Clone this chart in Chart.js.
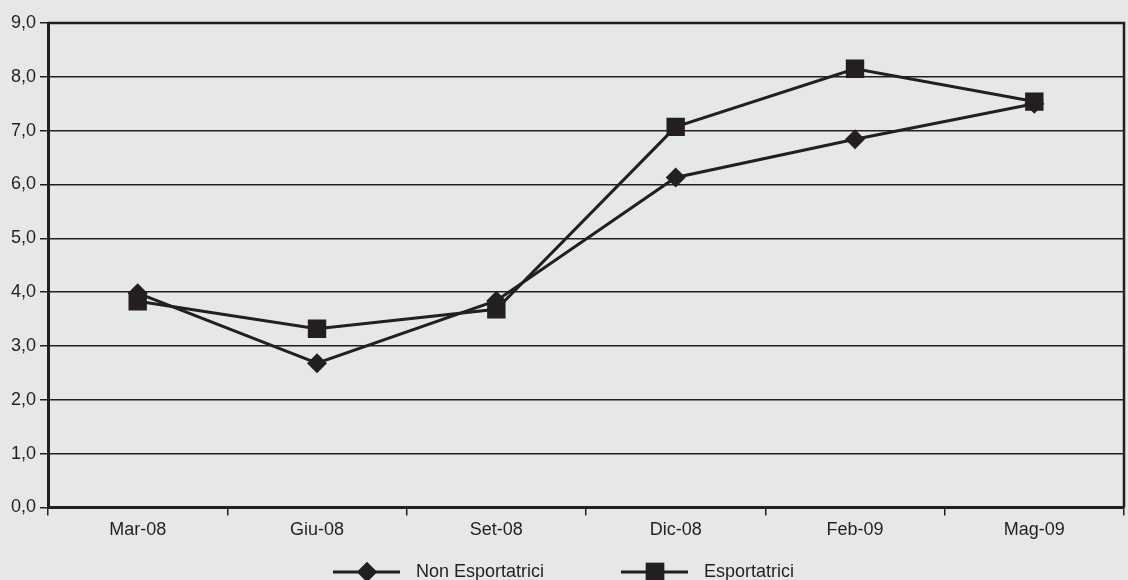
<!DOCTYPE html>
<html>
<head>
<meta charset="utf-8">
<script src="https://cdn.jsdelivr.net/npm/chart.js@4/dist/chart.umd.min.js"></script>
<style>
  html, body { margin: 0; padding: 0; background: #e6e7e8; overflow: hidden; }
  #wrap { width: 1128px; height: 580px; }
</style>
</head>
<body>
<div id="wrap"><canvas id="chart" width="1128" height="580"></canvas></div>
<script>
const categories = ['Mar-08', 'Giu-08', 'Set-08', 'Dic-08', 'Feb-09', 'Mag-09'];
const nonEsportatrici = [3.98, 2.68, 3.84, 6.13, 6.84, 7.50];
const esportatrici = [3.83, 3.32, 3.68, 7.07, 8.15, 7.54];
const yTicks = [0, 1, 2, 3, 4, 5, 6, 7, 8, 9];

const ink = '#231f20';
const fontFamily = '"Liberation Sans", Arial, sans-serif';

// big markers would otherwise push the plot edge inwards
Chart.LineController.prototype.getMaxOverflow = function () { return 0; };

// frame on the top and right side of the plot
const frame = {
    id: 'frame',
    beforeDatasetsDraw(chart) {
        const a = chart.chartArea;
        const ctx = chart.ctx;
        ctx.save();
        ctx.strokeStyle = ink;
        ctx.lineWidth = 2.5;
        ctx.beginPath();
        ctx.moveTo(a.left, a.top);
        ctx.lineTo(a.right, a.top);
        ctx.lineTo(a.right, a.bottom);
        ctx.stroke();
        ctx.restore();
    }
};

// legend: line with marker, then label
const lineLegend = {
    id: 'lineLegend',
    afterDraw(chart) {
        const ctx = chart.ctx;
        const y = 572;
        const starts = [333, 621];
        ctx.save();
        ctx.font = '18px ' + fontFamily;
        ctx.textBaseline = 'middle';
        chart.data.datasets.forEach((ds, i) => {
            const x = starts[i];
            ctx.strokeStyle = ink;
            ctx.lineWidth = 3;
            ctx.beginPath();
            ctx.moveTo(x, y);
            ctx.lineTo(x + 67, y);
            ctx.stroke();
            ctx.fillStyle = ink;
            Chart.helpers.drawPoint(ctx, {
                pointStyle: ds.pointStyle,
                radius: ds.pointRadius,
                borderWidth: 0
            }, x + 34, y);
            ctx.fill();
            ctx.fillText(ds.label, x + 83, y);
        });
        ctx.restore();
    }
};

new Chart(document.getElementById('chart'), {
    type: 'line',
    data: {
        labels: categories,
        datasets: [
            {
                label: 'Non Esportatrici',
                data: nonEsportatrici,
                borderColor: ink,
                backgroundColor: ink,
                borderWidth: 3,
                pointStyle: 'rectRot',
                pointRadius: 10,
                pointBackgroundColor: ink,
                pointBorderWidth: 0,
                tension: 0,
                order: 1
            },
            {
                label: 'Esportatrici',
                data: esportatrici,
                borderColor: ink,
                backgroundColor: ink,
                borderWidth: 3,
                pointStyle: 'rect',
                pointRadius: 13,
                pointBackgroundColor: ink,
                pointBorderWidth: 0,
                tension: 0,
                order: 0
            }
        ]
    },
    options: {
        responsive: false,
        animation: false,
        layout: {
            padding: { left: 7, right: 4, top: 23, bottom: 35 }
        },
        plugins: {
            legend: { display: false },
            tooltip: { enabled: false }
        },
        scales: {
            x: {
                offset: true,
                grid: {
                    offset: true,
                    drawOnChartArea: false,
                    color: ink,
                    lineWidth: 1.5,
                    tickLength: 8
                },
                border: { color: ink, width: 3 },
                ticks: {
                    color: ink,
                    padding: 4,
                    font: { family: fontFamily, size: 18 }
                }
            },
            y: {
                min: 0,
                max: 9,
                afterBuildTicks(scale) {
                    scale.ticks = yTicks.map(v => ({ value: v }));
                },
                grid: {
                    color: ink,
                    lineWidth: 1.5,
                    tickLength: 8
                },
                border: { color: ink, width: 3 },
                ticks: {
                    color: ink,
                    padding: 4,
                    font: { family: fontFamily, size: 18 },
                    callback: v => v.toFixed(1).replace('.', ',')
                }
            }
        }
    },
    plugins: [frame, lineLegend]
});
</script>
</body>
</html>
